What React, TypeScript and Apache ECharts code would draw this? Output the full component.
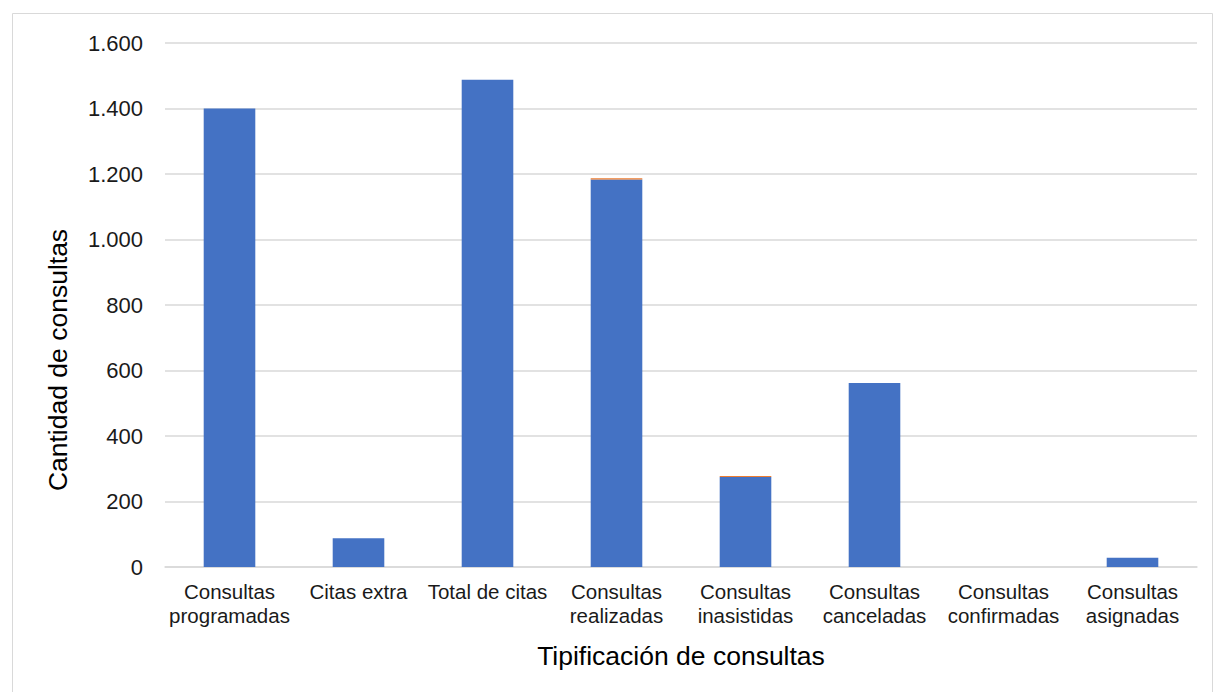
import React, { useEffect, useRef } from "react";
import * as echarts from "echarts";

const categories = [
  "Consultas\nprogramadas",
  "Citas extra",
  "Total de citas",
  "Consultas\nrealizadas",
  "Consultas\ninasistidas",
  "Consultas\ncanceladas",
  "Consultas\nconfirmadas",
  "Consultas\nasignadas",
];
const blueValues = [1400, 88, 1488, 1183, 275, 562, 0, 28];
const orangeValues = [0, 0, 0, 4, 3, 0, 0, 0];

const fmt = (v: number) => String(v).replace(/\B(?=(\d{3})+(?!\d))/g, ".");

export default function App() {
  const ref = useRef<HTMLDivElement>(null);
  useEffect(() => {
    document.body.style.margin = "0";
    const chart = echarts.init(ref.current!, null, { renderer: "svg" });
    const font = "'Liberation Sans', Arial, sans-serif";
    chart.setOption({
      animation: false,
      textStyle: { fontFamily: font },
      grid: { left: 165, right: 18, top: 43, bottom: 125 },
      graphic: [
        {
          type: "rect",
          shape: { x: 12.5, y: 13.5, width: 1200, height: 700 },
          style: { fill: "none", stroke: "#d9d9d9", lineWidth: 1 },
          silent: true,
        },
      ],
      xAxis: {
        type: "category",
        data: categories,
        axisLine: { lineStyle: { color: "#d9d9d9", width: 1.5 } },
        axisTick: { show: false },
        axisLabel: {
          color: "#1a1a1a",
          fontSize: 20.5,
          fontFamily: font,
          lineHeight: 24,
          margin: 12,
          interval: 0,
        },
        name: "Tipificación de consultas",
        nameLocation: "middle",
        nameGap: 75,
        nameTextStyle: { color: "#000", fontSize: 26.5, fontFamily: font },
      },
      yAxis: {
        type: "value",
        min: 0,
        max: 1600,
        interval: 200,
        axisLine: { show: false },
        axisTick: { show: false },
        splitLine: { lineStyle: { color: "#d9d9d9", width: 1.5 } },
        axisLabel: {
          color: "#1a1a1a",
          fontSize: 22,
          fontFamily: font,
          margin: 22,
          formatter: (v: number) => fmt(v),
        },
        name: "Cantidad de consultas",
        nameLocation: "middle",
        nameGap: 94,
        nameTextStyle: {
          color: "#000",
          fontSize: 26.5,
          fontFamily: font,
          padding: [0, 110, 0, 0],
        },
      },
      series: [
        {
          type: "bar",
          stack: "a",
          data: blueValues,
          barWidth: "40%",
          itemStyle: { color: "#4472c4" },
        },
        {
          type: "bar",
          stack: "a",
          data: orangeValues,
          barWidth: "40%",
          itemStyle: { color: "#ed7d31" },
        },
      ],
    });
    return () => chart.dispose();
  }, []);
  return <div ref={ref} style={{ width: 1215, height: 692 }} />;
}
